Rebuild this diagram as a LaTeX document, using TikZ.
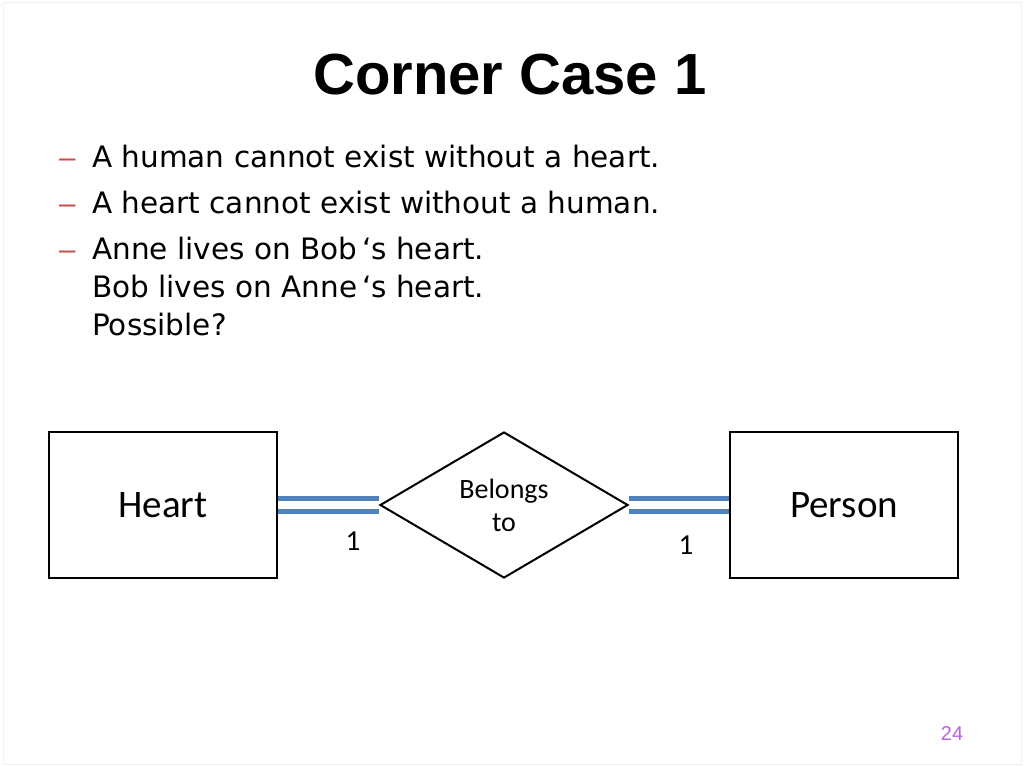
\documentclass[tikz,border=0pt]{standalone}
\usepackage{fontspec}
\setmainfont{Liberation Sans}
\newfontfamily\bodyfont{DejaVu Sans}
\newfontfamily\calfont{Carlito}
\usetikzlibrary{shapes.geometric}
\definecolor{dashred}{HTML}{C0504D}
\definecolor{linkblue}{HTML}{4F81BD}
\definecolor{pagenum}{HTML}{B565E0}
\begin{document}
\begin{tikzpicture}[x=1pt,y=-1pt,
  entity/.style={draw, line width=2pt, minimum width=228pt, minimum height=146pt, inner sep=0pt, font=\calfont\fontsize{39}{44}\selectfont},
  rel/.style={draw, line width=2pt, diamond, aspect=1.7, minimum width=248pt, minimum height=146pt, inner sep=0pt, align=center, font=\calfont\fontsize{28}{33}\selectfont},
  bullet/.style={anchor=base west, inner sep=0pt, font=\bodyfont\fontsize{29.5}{38}\selectfont},
  bdash/.style={anchor=base west, inner sep=0pt, text=dashred, font=\fontsize{29.5}{38}\selectfont},
  link/.style={linkblue, line width=4.5pt},
  card/.style={font=\calfont\fontsize{29}{32}\selectfont}
]
\useasboundingbox (0,0) rectangle (1024,767);
\draw[black!6, line width=1pt] (3,3) rectangle (1021,764);
\node[font=\bfseries\fontsize{58}{66}\selectfont] (title) at (510,75) {Corner Case 1};
\node[bdash] (d1) at (59,168) {–};
\node[bullet] (b1) at (92,168) {A human cannot exist without a heart.};
\node[bdash] (d2) at (59,214) {–};
\node[bullet] (b2) at (92,214) {A heart cannot exist without a human.};
\node[bdash] (d3) at (59,259) {–};
\node[bullet] (b3) at (92,259) {Anne lives on Bob\,‘s heart.};
\node[bullet] (b3b) at (92,297) {Bob lives on Anne\,‘s heart.};
\node[bullet] (b3c) at (92,335) {Possible?};
\node[entity] (heart) at (163,505) {Heart};
\node[entity] (person) at (844,505) {Person};
\node[rel] (rel) at (504,505) {Belongs\\to};
\draw[link] ([yshift=-6.5pt]heart.east) -- ([yshift=-6.5pt]rel.west);
\draw[link] ([yshift=6.5pt]heart.east) -- ([yshift=6.5pt]rel.west);
\draw[link] ([yshift=-6.5pt]rel.east) -- ([yshift=-6.5pt]person.west);
\draw[link] ([yshift=6.5pt]rel.east) -- ([yshift=6.5pt]person.west);
\node[card] (c1) at (353,541) {1};
\node[card] (c2) at (686,545) {1};
\node[text=pagenum, font=\fontsize{20}{24}\selectfont] (pg) at (952,734) {24};
\end{tikzpicture}
\end{document}
